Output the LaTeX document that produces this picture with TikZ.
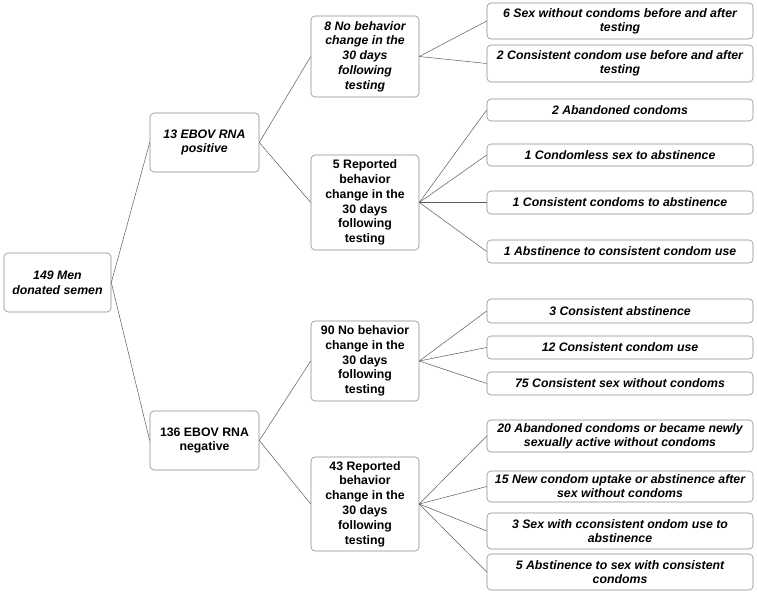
\documentclass[tikz,border=0pt]{standalone}
\usepackage{fontspec}
\setmainfont{Liberation Sans}
\definecolor{boxgray}{HTML}{8C8C8C}
\definecolor{linegray}{HTML}{5A5A5A}
\begin{document}
\begin{tikzpicture}[x=1pt,y=-1pt,
  box/.style={draw=boxgray, rounded corners=4pt, line width=0.6pt, align=center, inner sep=0pt, text=black},
  mid/.style={box, minimum width=108pt, font=\fontsize{12.3}{14.8}\selectfont\bfseries},
  midit/.style={mid, font=\fontsize{12.3}{14.8}\selectfont\bfseries\itshape},
  leaf/.style={box, minimum width=266pt, font=\fontsize{12.3}{13.8}\selectfont\bfseries\itshape},
  conn/.style={draw=linegray, line width=0.5pt}]
\useasboundingbox (0,0) rectangle (757,593);
% level 0
\node[midit, minimum width=107pt, minimum height=59pt] (root) at (57.5,282.5) {149 Men\\donated semen};
% level 1
\node[midit, minimum width=109pt, minimum height=59pt] (pos) at (204.5,142.5) {13 EBOV RNA\\positive};
\node[mid, minimum width=109pt, minimum height=59pt] (neg) at (204.5,440.5) {136 EBOV RNA\\negative};
% level 2
\node[midit, minimum height=81pt] (pno) at (365,56.5) {8 No behavior\\change in the\\30 days\\following\\testing};
\node[mid, minimum height=95pt] (prep) at (365,202.5) {5 Reported\\behavior\\change in the\\30 days\\following\\testing};
\node[mid, minimum height=80pt] (nno) at (365,361) {90 No behavior\\change in the\\30 days\\following\\testing};
\node[mid, minimum height=94pt] (nrep) at (365,504) {43 Reported\\behavior\\change in the\\30 days\\following\\testing};
% leaves
\node[leaf, minimum height=36pt] (l1) at (620,21) {6 Sex without condoms before and after\\testing};
\node[leaf, minimum height=37pt] (l2) at (620,63.5) {2 Consistent condom use before and after\\testing};
\node[leaf, minimum height=22pt] (l3) at (620,110) {2 Abandoned condoms};
\node[leaf, minimum height=22pt] (l4) at (620,155) {1 Condomless sex to abstinence};
\node[leaf, minimum height=23pt] (l5) at (620,202.5) {1 Consistent condoms to abstinence};
\node[leaf, minimum height=23pt] (l6) at (620,251.5) {1 Abstinence to consistent condom use};
\node[leaf, minimum height=24pt] (l7) at (620,311) {3 Consistent abstinence};
\node[leaf, minimum height=23pt] (l8) at (620,347.5) {12 Consistent condom use};
\node[leaf, minimum height=23pt] (l9) at (620,383.5) {75 Consistent sex without condoms};
\node[leaf, minimum height=32pt] (l10) at (620,436) {20 Abandoned condoms or became newly\\sexually active without condoms};
\node[leaf, minimum height=31pt] (l11) at (620,486.5) {15 New condom uptake or abstinence after\\sex without condoms};
\node[leaf, minimum height=36pt] (l12) at (620,531) {3 Sex with cconsistent ondom use to\\abstinence};
\node[leaf, minimum height=36pt] (l13) at (620,572) {5 Abstinence to sex with consistent\\condoms};
% connectors
\draw[conn] (root.east) -- (pos.west);
\draw[conn] (root.east) -- (neg.west);
\draw[conn] (pos.east) -- (pno.west);
\draw[conn] (pos.east) -- (prep.west);
\draw[conn] (neg.east) -- (nno.west);
\draw[conn] (neg.east) -- (nrep.west);
\draw[conn] (pno.east) -- (l1.west);
\draw[conn] (pno.east) -- (l2.west);
\draw[conn] (prep.east) -- (l3.west);
\draw[conn] (prep.east) -- (l4.west);
\draw[conn] (prep.east) -- (l5.west);
\draw[conn] (prep.east) -- (l6.west);
\draw[conn] (nno.east) -- (l7.west);
\draw[conn] (nno.east) -- (l8.west);
\draw[conn] (nno.east) -- (l9.west);
\draw[conn] (nrep.east) -- (l10.west);
\draw[conn] (nrep.east) -- (l11.west);
\draw[conn] (nrep.east) -- (l12.west);
\draw[conn] (nrep.east) -- (l13.west);
\end{tikzpicture}
\end{document}
